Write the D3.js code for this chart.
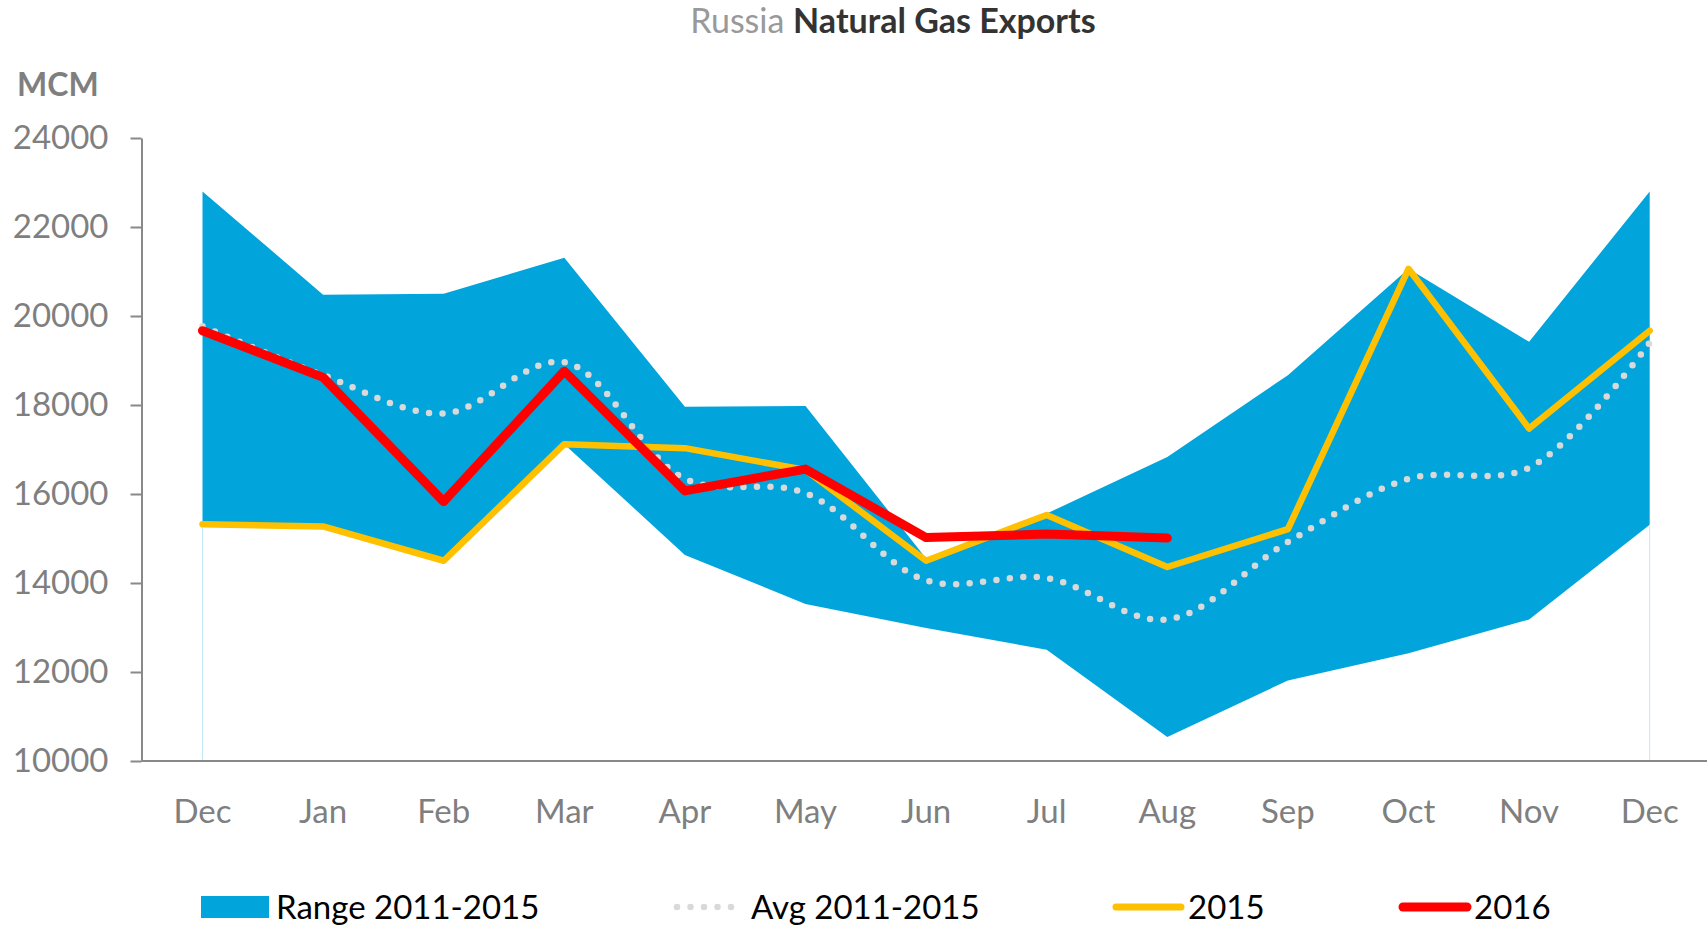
<!DOCTYPE html>
<html>
<head>
    <meta charset="utf-8">
    <title>Russia Natural Gas Exports</title>
    <script src="https://d3js.org/d3.v7.min.js"></script>
    <style>
        body { margin: 0; background: #fff; }
        text { font-family: Lato, "Open Sans", sans-serif; }
        .axis text { fill: #7f7f7f; font-size: 33px; }
        .axis path, .axis line { stroke: #898989; stroke-width: 2px; }
        .legend text { fill: #000; font-size: 33px; }
    </style>
</head>
<body>
<div id="chart"></div>
<script>
    // 数据 (MCM)
    const months = ['Dec', 'Jan', 'Feb', 'Mar', 'Apr', 'May', 'Jun', 'Jul', 'Aug', 'Sep', 'Oct', 'Nov', 'Dec'];
    const rangeLow  = [15310, 15260, 14500, 17120, 14630, 13530, 12990, 12500, 10540, 11810, 12420, 13180, 15310];
    const rangeHigh = [22800, 20480, 20500, 21310, 17960, 17980, 14550, 15560, 16830, 18670, 21060, 19420, 22800];
    const avg       = [19770, 18670, 17810, 18960, 16340, 16020, 14060, 14110, 13180, 14920, 16340, 16590, 19400];
    const y2015     = [15320, 15270, 14500, 17120, 17030, 16540, 14500, 15530, 14360, 15210, 21060, 17470, 19670];
    const y2016     = [19670, 18620, 15830, 18760, 16070, 16560, 15020, 15100, 15010];
    const yTicks    = [10000, 12000, 14000, 16000, 18000, 20000, 22000, 24000];

    const width = 1707;
    const height = 925;
    const plotLeft = 141.5, plotRight = 1710, plotTop = 138, plotBottom = 761;

    const svg = d3.select("#chart")
        .append("svg")
        .attr("width", width)
        .attr("height", height);

    const x = d3.scaleBand()
        .domain(d3.range(months.length))
        .range([plotLeft + 0.7, plotRight]);
    const cx = i => x(i) + x.bandwidth() / 2;

    const y = d3.scaleLinear()
        .domain([10000, 24000])
        .range([plotBottom, plotTop]);

    // 区间面积
    const area = d3.area()
        .x((d, i) => cx(i))
        .y0((d, i) => y(rangeLow[i]))
        .y1(d => y(d));

    svg.append("path")
        .datum(rangeHigh)
        .attr("fill", "#02a4dc")
        .attr("d", area);

    // 两端的细线
    [0, months.length - 1].forEach(i => {
        svg.append("line")
            .attr("x1", cx(i)).attr("x2", cx(i))
            .attr("y1", y(rangeLow[i])).attr("y2", y(10000))
            .attr("stroke", "#c4e9f6")
            .attr("stroke-width", 1);
    });

    // 坐标轴
    svg.append("g")
        .attr("class", "axis")
        .attr("transform", `translate(${plotLeft},0)`)
        .call(d3.axisLeft(y).tickValues(yTicks).tickFormat(d3.format("d")).tickSize(11).tickSizeOuter(0).tickPadding(22));

    const xAxis = svg.append("g")
        .attr("class", "axis")
        .attr("transform", `translate(0,${plotBottom})`)
        .call(d3.axisBottom(x).tickFormat(i => months[i]).tickSize(0).tickSizeOuter(0).tickPadding(39));
    xAxis.select(".domain").attr("d", `M${plotLeft},0H${width}`);

    // 平均值 (点线)
    const smooth = d3.line()
        .x((d, i) => cx(i))
        .y(d => y(d))
        .curve(d3.curveCatmullRom.alpha(0.5));

    svg.append("path")
        .datum(avg)
        .attr("fill", "none")
        .attr("stroke", "#d9d9d9")
        .attr("stroke-width", 6.5)
        .attr("stroke-linecap", "round")
        .attr("stroke-dasharray", "0 13.5")
        .attr("d", smooth);

    const line = d3.line()
        .x((d, i) => cx(i))
        .y(d => y(d));

    svg.append("path")
        .datum(y2015)
        .attr("fill", "none")
        .attr("stroke", "#ffc000")
        .attr("stroke-width", 6.5)
        .attr("stroke-linecap", "round")
        .attr("stroke-linejoin", "round")
        .attr("d", line);

    svg.append("path")
        .datum(y2016)
        .attr("fill", "none")
        .attr("stroke", "#ff0000")
        .attr("stroke-width", 9)
        .attr("stroke-linecap", "round")
        .attr("stroke-linejoin", "round")
        .attr("d", line);

    // 标题
    const title = svg.append("text")
        .attr("x", 893)
        .attr("y", 33)
        .attr("text-anchor", "middle")
        .style("font-size", "34px");
    title.append("tspan").attr("fill", "#999").text("Russia ");
    title.append("tspan").attr("fill", "#333").attr("font-weight", "bold").text("Natural Gas Exports");

    svg.append("text")
        .attr("x", 17)
        .attr("y", 96)
        .attr("fill", "#7f7f7f")
        .attr("font-weight", "bold")
        .style("font-size", "32px")
        .text("MCM");

    // 图例
    const legend = svg.append("g").attr("class", "legend");
    const ly = 907;

    legend.append("rect")
        .attr("x", 201).attr("y", ly - 11)
        .attr("width", 68).attr("height", 22)
        .attr("fill", "#02a4dc");
    legend.append("text").attr("x", 276).attr("y", ly + 12).text("Range 2011-2015");

    legend.append("line")
        .attr("x1", 677).attr("x2", 744).attr("y1", ly).attr("y2", ly)
        .attr("stroke", "#d9d9d9").attr("stroke-width", 6.5)
        .attr("stroke-linecap", "round").attr("stroke-dasharray", "0 13.5");
    legend.append("text").attr("x", 751).attr("y", ly + 12).text("Avg 2011-2015");

    legend.append("line")
        .attr("x1", 1116).attr("x2", 1181).attr("y1", ly).attr("y2", ly)
        .attr("stroke", "#ffc000").attr("stroke-width", 7).attr("stroke-linecap", "round");
    legend.append("text").attr("x", 1188).attr("y", ly + 12).text("2015");

    legend.append("line")
        .attr("x1", 1403).attr("x2", 1467).attr("y1", ly).attr("y2", ly)
        .attr("stroke", "#ff0000").attr("stroke-width", 9).attr("stroke-linecap", "round");
    legend.append("text").attr("x", 1474).attr("y", ly + 12).text("2016");
</script>
</body>
</html>
